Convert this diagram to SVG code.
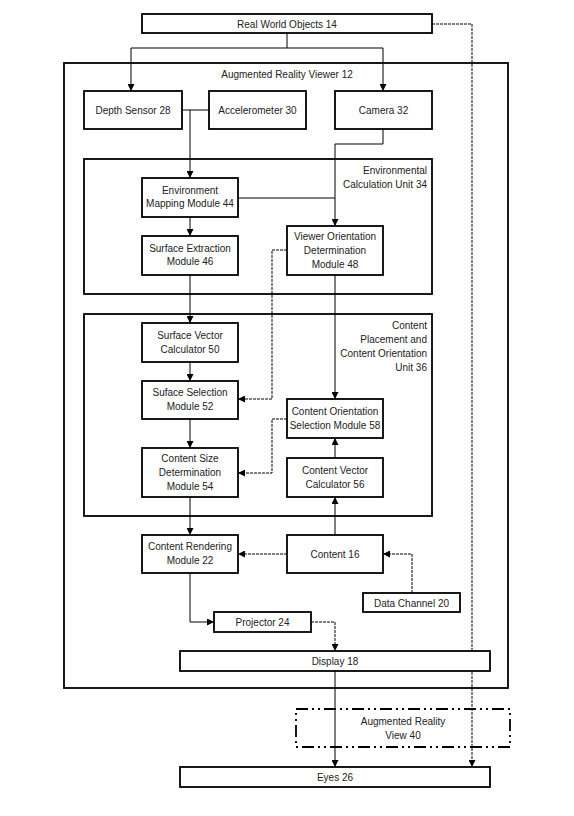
<svg xmlns="http://www.w3.org/2000/svg" width="574" height="816" viewBox="0 0 574 816">
<defs>
<marker id="ah" viewBox="0 0 10 10" refX="10" refY="5" markerWidth="7" markerHeight="7" markerUnits="userSpaceOnUse" orient="auto">
<path d="M0,0 L10,5 L0,10 z" fill="#000"/>
</marker>
<style>
.box{fill:#fff;stroke:#000;stroke-width:1.8}
.cont{fill:none;stroke:#000;stroke-width:1.8}
.dd{fill:none;stroke:#000;stroke-width:1.8;stroke-dasharray:12 4 2 4 2 4}
text{font-family:"Liberation Sans",Arial,sans-serif;font-size:10px;fill:#222}
.c{text-anchor:middle}
.r{text-anchor:end}
.ln{fill:none;stroke:#000;stroke-width:1}
.dl{fill:none;stroke:#000;stroke-width:1;stroke-dasharray:3 1}
</style>
</defs>
<rect width="574" height="816" fill="#fff"/>

<g id="viewer12"><rect class="cont" x="64" y="63" width="444" height="625"/><text class="c" x="287" y="78">Augmented Reality Viewer 12</text></g>
<g id="envunit34"><rect class="cont" x="84" y="159" width="348" height="135"/><text class="r" x="427" y="174">Environmental</text><text class="r" x="427" y="188">Calculation Unit 34</text></g>
<g id="placement36"><rect class="cont" x="84" y="314" width="348" height="202"/><text class="r" x="427" y="329">Content</text><text class="r" x="427" y="343">Placement and</text><text class="r" x="427" y="357">Content Orientation</text><text class="r" x="427" y="371">Unit 36</text></g>
<g id="arview40"><rect class="dd" x="296" y="709" width="214" height="38"/><text class="c" x="403" y="725">Augmented Reality</text><text class="c" x="403" y="739">View 40</text></g>

<g id="connectors">
<path class="ln" d="M287,33 V48 M131,48 H383"/>
<path class="ln" d="M131,48 V91" marker-end="url(#ah)"/>
<path class="ln" d="M383,48 V91" marker-end="url(#ah)"/>
<path class="dl" d="M432,24 H472 V767" marker-end="url(#ah)"/>
<path class="ln" d="M182,110 H209"/>
<path class="ln" d="M190,110 V178" marker-end="url(#ah)"/>
<path class="ln" d="M383,129 V144 H335 V226" marker-end="url(#ah)"/>
<path class="ln" d="M238,198 H335"/>
<path class="ln" d="M190,217 V236" marker-end="url(#ah)"/>
<path class="ln" d="M190,275 V323" marker-end="url(#ah)"/>
<path class="dl" d="M287,250 H272 V399 H238" marker-end="url(#ah)"/>
<path class="ln" d="M335,275 V399" marker-end="url(#ah)"/>
<path class="ln" d="M190,362 V381" marker-end="url(#ah)"/>
<path class="ln" d="M190,419 V448" marker-end="url(#ah)"/>
<path class="dl" d="M287,419 H272 V473 H238" marker-end="url(#ah)"/>
<path class="ln" d="M335,458 V438" marker-end="url(#ah)"/>
<path class="ln" d="M335,535 V497" marker-end="url(#ah)"/>
<path class="ln" d="M190,497 V535" marker-end="url(#ah)"/>
<path class="dl" d="M287,554 H238" marker-end="url(#ah)"/>
<path class="dl" d="M412,593 V554 H383" marker-end="url(#ah)"/>
<path class="ln" d="M190,573 V622 H214" marker-end="url(#ah)"/>
<path class="dl" d="M311,622 H335 V651" marker-end="url(#ah)"/>
<path class="ln" d="M335,671 V767" marker-end="url(#ah)"/>
</g>

<g id="rwo14"><rect class="box" x="142" y="14" width="290" height="19"/><text class="c" x="287" y="27.5">Real World Objects 14</text></g>
<g id="depth28"><rect class="box" x="84" y="91" width="98" height="38"/><text class="c" x="133" y="113.5">Depth Sensor 28</text></g>
<g id="accel30"><rect class="box" x="209" y="91" width="97" height="38"/><text class="c" x="257.5" y="113.5">Accelerometer 30</text></g>
<g id="camera32"><rect class="box" x="335" y="91" width="97" height="38"/><text class="c" x="383.5" y="113.5">Camera 32</text></g>
<g id="envmap44"><rect class="box" x="142" y="178" width="96" height="39"/><text class="c" x="190" y="194">Environment</text><text class="c" x="190" y="207">Mapping Module 44</text></g>
<g id="surfext46"><rect class="box" x="142" y="236" width="96" height="39"/><text class="c" x="190" y="252">Surface Extraction</text><text class="c" x="190" y="265">Module 46</text></g>
<g id="vieworient48"><rect class="box" x="287" y="226" width="96" height="49"/><text class="c" x="335" y="240">Viewer Orientation</text><text class="c" x="335" y="254">Determination</text><text class="c" x="335" y="268">Module 48</text></g>
<g id="surfvec50"><rect class="box" x="142" y="323" width="96" height="39"/><text class="c" x="190" y="339">Surface Vector</text><text class="c" x="190" y="353">Calculator 50</text></g>
<g id="surfsel52"><rect class="box" x="142" y="381" width="96" height="38"/><text class="c" x="190" y="396">Suface Selection</text><text class="c" x="190" y="410">Module 52</text></g>
<g id="contsize54"><rect class="box" x="142" y="448" width="96" height="49"/><text class="c" x="190" y="462">Content Size</text><text class="c" x="190" y="476">Determination</text><text class="c" x="190" y="490">Module 54</text></g>
<g id="contorient58"><rect class="box" x="287" y="399" width="96" height="39"/><text class="c" x="335" y="415">Content Orientation</text><text class="c" x="335" y="429">Selection Module 58</text></g>
<g id="contvec56"><rect class="box" x="287" y="458" width="96" height="39"/><text class="c" x="335" y="474">Content Vector</text><text class="c" x="335" y="488">Calculator 56</text></g>
<g id="render22"><rect class="box" x="142" y="535" width="96" height="38"/><text class="c" x="190" y="550">Content Rendering</text><text class="c" x="190" y="564">Module 22</text></g>
<g id="content16"><rect class="box" x="287" y="535" width="96" height="38"/><text class="c" x="335" y="557.5">Content 16</text></g>
<g id="datach20"><rect class="box" x="363" y="593" width="97" height="19"/><text class="c" x="411.5" y="606.5">Data Channel 20</text></g>
<g id="proj24"><rect class="box" x="214" y="612" width="97" height="20"/><text class="c" x="262.5" y="625.5">Projector 24</text></g>
<g id="display18"><rect class="box" x="180" y="651" width="310" height="20"/><text class="c" x="335" y="664.5">Display 18</text></g>
<g id="eyes26"><rect class="box" x="180" y="767" width="310" height="20"/><text class="c" x="335" y="780.5">Eyes 26</text></g>
</svg>
